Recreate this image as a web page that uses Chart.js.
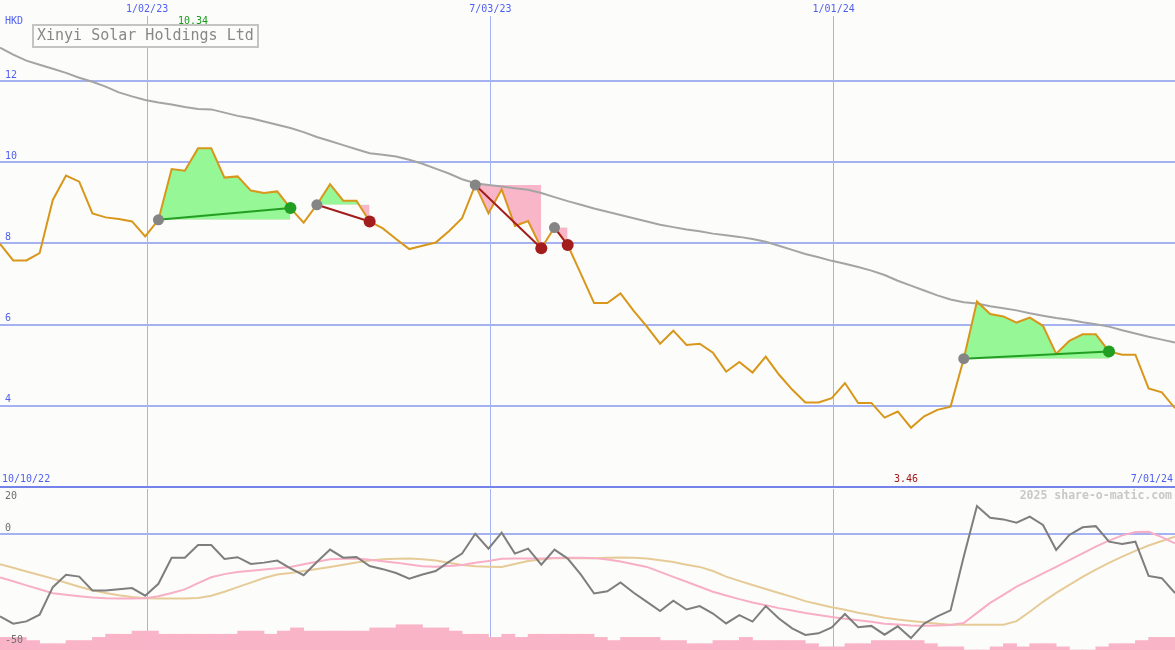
<!DOCTYPE html>
<html>
<head>
<meta charset="utf-8">
<title>Xinyi Solar Holdings Ltd</title>
<script src="https://cdn.jsdelivr.net/npm/chart.js@4.4.1/dist/chart.umd.min.js"></script>
<style>
  html, body { margin: 0; padding: 0; background: #fcfdfa; }
  #wrap { position: relative; width: 1175px; height: 650px; overflow: hidden; }
  #priceChart { position: absolute; left: 0; top: 0; }
  #oscChart { position: absolute; left: 0; top: 489px; }
</style>
</head>
<body>
<div id="wrap">
  <canvas id="priceChart" width="1175" height="489"></canvas>
  <canvas id="oscChart" width="1175" height="161"></canvas>
</div>
<script>
// Weekly data, first week plotted at the left edge
const stockName = 'Xinyi Solar Holdings Ltd';
const firstWeek = '2022-10-16';

// weekly close, HKD
const price = [7.99, 7.58, 7.58, 7.76, 9.07, 9.67, 9.52, 8.74, 8.64, 8.60,
  8.54, 8.17, 8.58, 9.83, 9.79, 10.34, 10.34, 9.62, 9.65, 9.30,
  9.24, 9.28, 8.87, 8.51, 8.95, 9.46, 9.05, 9.05, 8.54, 8.37,
  8.11, 7.86, 7.94, 8.02, 8.30, 8.62, 9.44, 8.74, 9.33, 8.43,
  8.55, 7.88, 8.39, 7.96, 7.25, 6.53, 6.53, 6.77, 6.34, 5.95,
  5.53, 5.85, 5.50, 5.53, 5.31, 4.84, 5.08, 4.82, 5.21, 4.77,
  4.40, 4.08, 4.08, 4.19, 4.56, 4.07, 4.07, 3.71, 3.86, 3.46,
  3.74, 3.90, 3.98, 5.16, 6.57, 6.26, 6.20, 6.05, 6.17, 5.97,
  5.28, 5.60, 5.76, 5.76, 5.34, 5.26, 5.26, 4.43, 4.33, 3.94];

// long moving average of the close
const priceMA = [12.82, 12.65, 12.50, 12.40, 12.30, 12.20, 12.08, 11.98, 11.86, 11.72,
  11.62, 11.53, 11.47, 11.42, 11.36, 11.31, 11.30, 11.22, 11.14, 11.08,
  11.00, 10.92, 10.84, 10.74, 10.62, 10.52, 10.42, 10.32, 10.22, 10.18,
  10.14, 10.06, 9.96, 9.84, 9.72, 9.58, 9.48, 9.44, 9.40, 9.36,
  9.32, 9.24, 9.14, 9.04, 8.95, 8.86, 8.78, 8.70, 8.62, 8.54,
  8.46, 8.40, 8.34, 8.30, 8.24, 8.20, 8.16, 8.11, 8.04, 7.94,
  7.84, 7.74, 7.66, 7.57, 7.50, 7.42, 7.33, 7.22, 7.08, 6.96,
  6.84, 6.72, 6.62, 6.55, 6.52, 6.45, 6.40, 6.35, 6.28, 6.22,
  6.16, 6.12, 6.06, 6.01, 5.95, 5.86, 5.78, 5.70, 5.63, 5.56];

// lower panel oscillator and its two averages
const osc = [-36.6, -39.8, -38.8, -35.8, -23.6, -18.1, -18.9, -25.1, -25.1, -24.5,
  -24.0, -27.4, -22.1, -10.5, -10.5, -4.9, -4.9, -11.1, -10.3, -13.3,
  -12.7, -11.8, -15.2, -18.3, -12.4, -6.9, -10.5, -10.2, -14.2, -15.6,
  -17.3, -19.8, -18.0, -16.4, -12.4, -8.7, 0.1, -6.5, 0.6, -8.7,
  -6.5, -13.6, -6.9, -10.9, -18.0, -26.4, -25.4, -21.5, -26.1, -30.1,
  -34.2, -29.6, -33.5, -32.0, -35.3, -39.7, -36.0, -38.9, -32.0, -37.5,
  -41.9, -44.8, -44.1, -41.5, -35.5, -41.4, -40.8, -44.7, -41.0, -46.2,
  -39.8, -36.6, -33.9, -10.0, 12.4, 7.2, 6.5, 5.0, 7.7, 4.0,
  -7.1, -0.4, 3.0, 3.5, -3.4, -4.4, -3.4, -18.6, -19.6, -26.2];

const oscFast = [-19.3, -21.0, -22.8, -24.5, -26.3, -27.0, -27.6, -28.2, -28.5, -28.6,
  -28.6, -28.5, -27.6, -26.2, -24.6, -21.8, -19.2, -17.8, -16.9, -16.3,
  -15.7, -15.2, -14.6, -13.4, -12.3, -11.2, -11.0, -10.9, -11.4, -12.1,
  -12.7, -13.5, -14.3, -14.5, -14.2, -13.8, -12.8, -12.0, -11.0, -10.9,
  -10.9, -10.9, -10.6, -10.5, -10.5, -10.7, -11.3, -12.2, -13.4, -14.6,
  -16.8, -19.0, -21.2, -23.4, -25.6, -27.3, -28.9, -30.4, -31.6, -32.9,
  -34.0, -35.1, -36.0, -36.8, -37.6, -38.3, -39.0, -39.8, -40.2, -40.6,
  -40.7, -40.6, -40.4, -39.5, -35.0, -30.6, -27.0, -23.4, -20.5, -17.5,
  -14.6, -11.6, -8.6, -5.6, -2.9, -0.6, 0.9, 1.0, -1.4, -4.1];

const oscSlow = [-13.4, -15.0, -16.6, -18.2, -19.8, -21.6, -23.4, -25.0, -26.2, -27.2,
  -28.0, -28.5, -28.6, -28.6, -28.6, -28.4, -27.4, -25.6, -23.6, -21.6,
  -19.5, -18.0, -17.3, -16.4, -15.5, -14.6, -13.6, -12.6, -11.8, -11.2,
  -11.0, -10.9, -11.2, -11.8, -12.8, -13.8, -14.3, -14.5, -14.6, -13.3,
  -12.0, -11.3, -10.7, -10.6, -10.8, -10.7, -10.5, -10.4, -10.5, -10.9,
  -11.6, -12.4, -13.6, -14.6, -16.4, -18.9, -20.8, -22.6, -24.4, -26.2,
  -27.9, -29.8, -31.2, -32.5, -33.6, -35.0, -36.0, -37.2, -38.0, -38.6,
  -39.2, -39.8, -40.3, -40.3, -40.3, -40.3, -40.3, -38.7, -34.5, -30.1,
  -26.1, -22.6, -19.0, -15.8, -12.8, -10.0, -7.5, -5.1, -3.1, -1.2];

// weekly activity bars, one per week interval
const activity = [4, 4, 3, 2, 2, 3, 3, 4, 5, 5,
  6, 6, 5, 5, 5, 5, 5, 5, 6, 6,
  5, 6, 7, 6, 6, 6, 6, 6, 7, 7,
  8, 8, 7, 7, 6, 5, 5, 4, 5, 4,
  5, 5, 5, 5, 5, 4, 3, 4, 4, 4,
  3, 3, 2, 2, 3, 3, 4, 3, 3, 3,
  3, 2, 1, 1, 2, 2, 3, 3, 3, 3,
  2, 1, 1, 0, 0, 1, 2, 1, 2, 2,
  1, 0, 0, 1, 2, 2, 3, 4, 4];

// trades (week index of entry and exit)
const tradeEntry = [12, 24, 36, 42, 73];
const tradeExit = [22, 28, 41, 43, 84];

// axis labels
const gridDates = ['2023-01-02', '2023-07-03', '2024-01-01'];
const gridLabels = ['1/02/23', '7/03/23', '1/01/24'];
const rangeLabels = ['10/10/22', '7/01/24'];
const priceTicks = [2, 4, 6, 8, 10, 12];
const oscTicks = [20, 0, -50];

// colours
const BG = '#fcfdfa';
const GRID = '#a5b2f2';
const DIVIDER = '#7383ea';
const BLUE = '#4f5ff0';
const PRICE = '#d8961a';
const MA = '#a4a4a4';
const GREEN_FILL = '#95f795';
const PINK_FILL = '#fab6c9';
const WIN = '#229e22';
const LOSS = '#a31d1d';
const MONO = 'DejaVu Sans Mono';

Chart.defaults.font.family = MONO;

const DAY = 86400000;
const dayOf = d => Math.round((Date.parse(d) - Date.parse(firstWeek)) / DAY);
const weekX = i => i * 7;
const pts = arr => arr.map((v, i) => ({ x: weekX(i), y: v }));
const lastX = weekX(price.length - 1);
const gridTicks = scale => { scale.ticks = gridDates.map(d => ({ value: dayOf(d) })); };

// ---- price panel ----
const priceSets = [];
tradeEntry.forEach((e, t) => {
  const x = tradeExit[t];
  const win = price[x] > price[e];
  priceSets.push({
    data: price.slice(e, x + 1).map((v, j) => ({ x: weekX(e + j), y: v })),
    borderColor: 'rgba(0,0,0,0)',
    borderWidth: 0,
    pointRadius: 0,
    fill: { target: { value: price[e] }, above: GREEN_FILL, below: PINK_FILL },
    order: 10
  });
  priceSets.push({
    data: [{ x: weekX(e), y: price[e] }, { x: weekX(x), y: price[x] }],
    borderColor: win ? WIN : LOSS,
    borderWidth: 2,
    pointRadius: [5.5, 6],
    pointBackgroundColor: ['#858585', win ? WIN : LOSS],
    pointBorderWidth: 0,
    fill: false,
    order: 1
  });
});
priceSets.push({ data: pts(priceMA), borderColor: MA, borderWidth: 2, pointRadius: 0, fill: false, order: 6 });
priceSets.push({ data: pts(price), borderColor: PRICE, borderWidth: 2, pointRadius: 0, fill: false, order: 5 });

const priceText = {
  id: 'priceText',
  afterDraw(chart) {
    const { ctx, chartArea } = chart;
    const xs = chart.scales.x;
    ctx.save();
    ctx.textBaseline = 'middle';
    ctx.font = '10px ' + MONO;
    ctx.fillStyle = BLUE;
    ctx.textAlign = 'left';
    ctx.fillText('HKD', 5, 21);
    ctx.fillText(rangeLabels[0], 2, chartArea.bottom - 8);
    ctx.textAlign = 'right';
    ctx.fillText(rangeLabels[1], 1173, chartArea.bottom - 8);

    // highest and lowest close
    const hi = price.indexOf(Math.max(...price));
    const lo = price.indexOf(Math.min(...price));
    ctx.textAlign = 'center';
    ctx.fillStyle = '#1a9a1a';
    ctx.fillText(price[hi].toFixed(2), xs.getPixelForValue(weekX(hi)) - 5, 21);
    ctx.fillStyle = '#a01818';
    ctx.fillText(price[lo].toFixed(2), xs.getPixelForValue(weekX(lo)) - 5, chartArea.bottom - 8);

    // name box
    ctx.fillStyle = BG;
    ctx.fillRect(33, 25, 225, 22);
    ctx.strokeStyle = '#c4c4c4';
    ctx.lineWidth = 2;
    ctx.strokeRect(33, 25, 225, 22);
    ctx.fillStyle = '#888888';
    ctx.font = '15px ' + MONO;
    ctx.textAlign = 'left';
    ctx.fillText(stockName, 37, 36.5);
    ctx.restore();
  }
};

new Chart(document.getElementById('priceChart'), {
  type: 'line',
  data: { datasets: priceSets },
  options: {
    responsive: false,
    animation: false,
    devicePixelRatio: 1,
    layout: { padding: { bottom: 2 }, autoPadding: false },
    plugins: { legend: { display: false }, tooltip: { enabled: false } },
    scales: {
      x: {
        type: 'linear', position: 'top', min: 0, max: lastX, offset: false,
        afterBuildTicks: gridTicks,
        afterFit: s => { s.height = 16; s.paddingLeft = 0; s.paddingRight = 0; },
        ticks: {
          autoSkip: false, maxRotation: 0, padding: 1, color: BLUE,
          font: { size: 10, family: MONO },
          callback: (v, i) => gridLabels[i]
        },
        grid: { color: GRID, lineWidth: 1, drawTicks: false, offset: false },
        border: { display: false }
      },
      y: {
        min: 2, max: 13.6,
        afterBuildTicks: s => { s.ticks = priceTicks.map(v => ({ value: v })); },
        afterFit: s => { s.width = 0; s.paddingTop = 0; s.paddingBottom = 0; },
        ticks: {
          mirror: true, padding: 5, labelOffset: -6, color: BLUE,
          font: { size: 10, family: MONO },
          callback: v => (v === priceTicks[0] ? '' : v)
        },
        grid: {
          drawTicks: false, lineWidth: 2,
          color: c => (c.tick && c.tick.value === priceTicks[0] ? DIVIDER : GRID)
        },
        border: { display: false }
      }
    }
  },
  plugins: [priceText]
});

// ---- oscillator panel ----
const oscText = {
  id: 'oscText',
  afterDraw(chart) {
    const { ctx, chartArea } = chart;
    const ys = chart.scales.y;
    ctx.save();
    ctx.textBaseline = 'middle';
    ctx.font = '10px ' + MONO;
    ctx.fillStyle = '#6e6e6e';
    ctx.textAlign = 'left';
    oscTicks.forEach(v => {
      const y = Math.max(ys.getPixelForValue(v) - 6, chartArea.top + 7);
      ctx.fillText(String(v), 5, y);
    });
    ctx.font = 'bold 11.5px ' + MONO;
    ctx.fillStyle = '#c8c8c8';
    ctx.textAlign = 'right';
    ctx.fillText('2025 share-o-matic.com', 1172, chartArea.top + 7);
    ctx.restore();
  }
};

new Chart(document.getElementById('oscChart'), {
  type: 'line',
  data: {
    datasets: [
      { data: pts(osc), borderColor: '#7e7e7e', borderWidth: 2, pointRadius: 0, order: 1 },
      { data: pts(oscFast), borderColor: '#f7aec6', borderWidth: 2, pointRadius: 0, order: 2 },
      { data: pts(oscSlow), borderColor: '#e6cb98', borderWidth: 2, pointRadius: 0, order: 3 },
      {
        type: 'bar', yAxisID: 'yv',
        data: activity.map((v, k) => ({ x: weekX(k + 0.5), y: v })),
        backgroundColor: '#f9b4c8', borderWidth: 0,
        barPercentage: 1, categoryPercentage: 1, order: 4
      }
    ]
  },
  options: {
    responsive: false,
    animation: false,
    devicePixelRatio: 1,
    layout: { padding: 0, autoPadding: false },
    plugins: { legend: { display: false }, tooltip: { enabled: false } },
    scales: {
      x: {
        type: 'linear', min: 0, max: lastX, offset: false,
        afterBuildTicks: gridTicks,
        afterFit: s => { s.height = 0; s.paddingLeft = 0; s.paddingRight = 0; },
        ticks: { display: false },
        grid: { color: GRID, lineWidth: 1, drawTicks: false, offset: false },
        border: { display: false }
      },
      y: {
        min: -51.5, max: 20,
        afterBuildTicks: s => { s.ticks = oscTicks.map(v => ({ value: v })); },
        afterFit: s => { s.width = 0; s.paddingTop = 0; s.paddingBottom = 0; },
        ticks: { display: false },
        grid: {
          drawTicks: false, lineWidth: 2,
          color: c => (c.tick && c.tick.value === 0 ? GRID : 'rgba(0,0,0,0)')
        },
        border: { display: false }
      },
      yv: { display: false, min: 0, max: 51 }
    }
  },
  plugins: [oscText]
});
</script>
</body>
</html>
